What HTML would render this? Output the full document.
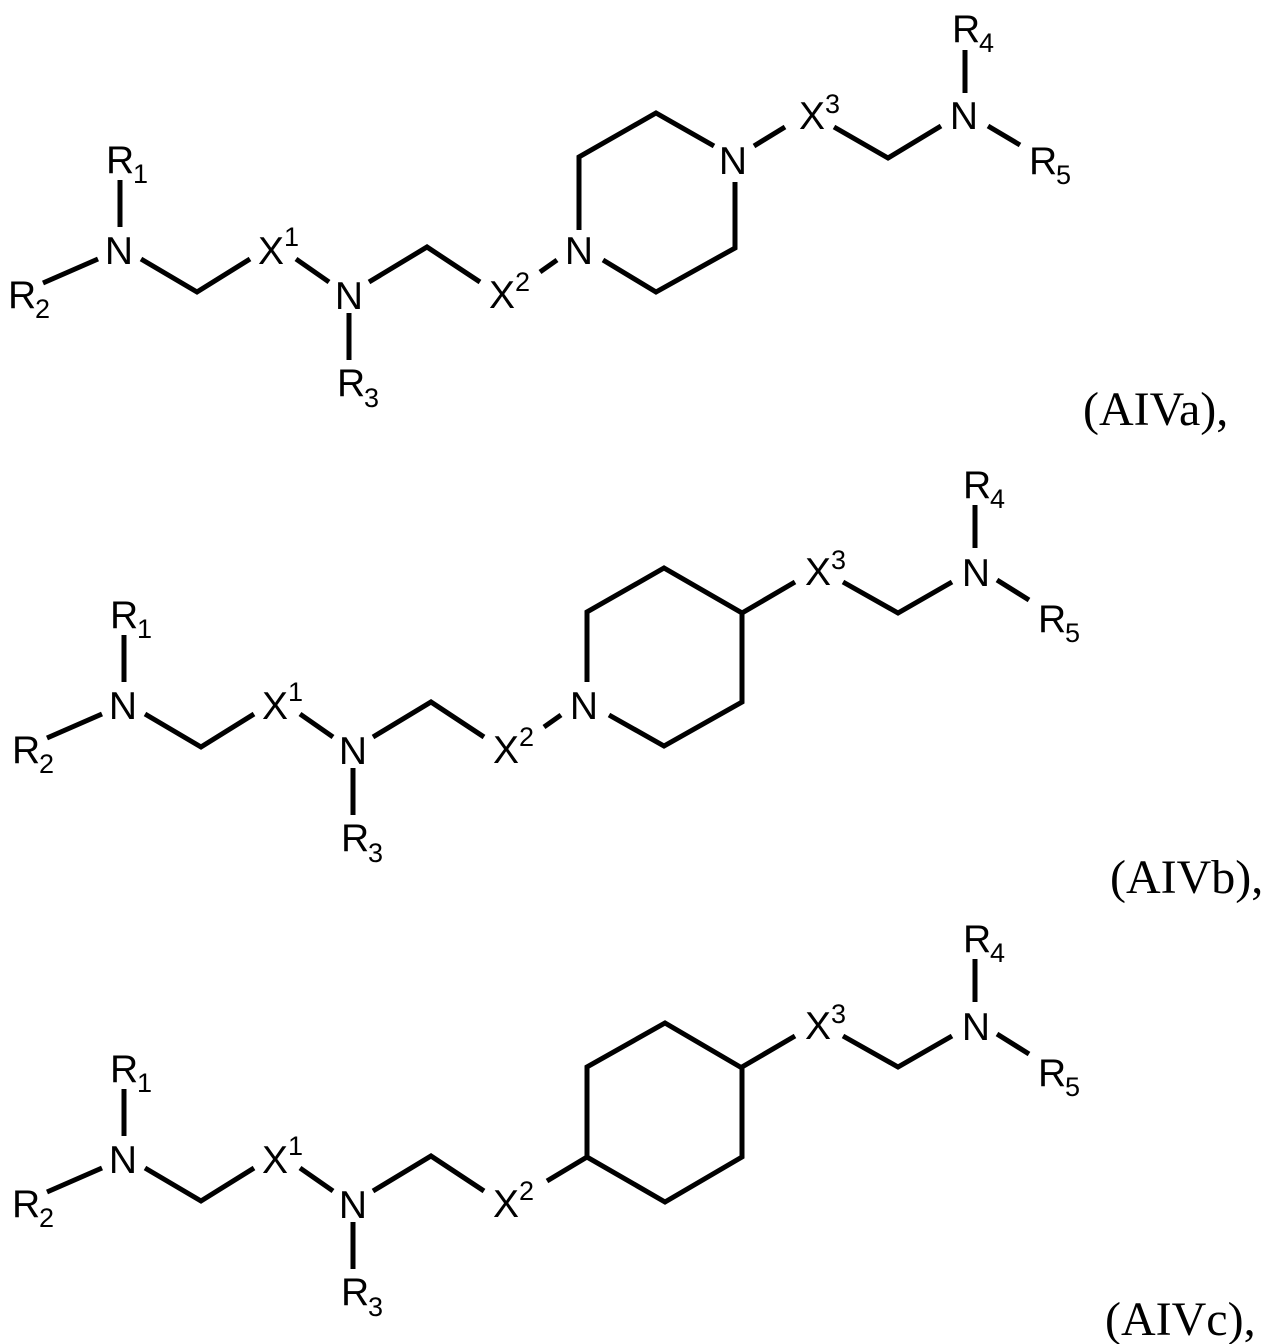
<!DOCTYPE html>
<html><head><meta charset="utf-8"><style>
html,body{margin:0;padding:0;background:#fff;}
svg{display:block;}
text{font-family:"Liberation Sans",Arial,sans-serif;fill:#000;}
.m{font-size:39px;}
.s{font-size:27px;}
.n{font-size:39px;text-anchor:middle;}
.lab{font-family:"Liberation Serif","Times New Roman",serif;font-size:48px;}
polyline,line{stroke:#000;stroke-width:5;fill:none;stroke-linejoin:miter;stroke-linecap:butt;}
</style></head><body>
<svg width="1282" height="1344" viewBox="0 0 1282 1344" xmlns="http://www.w3.org/2000/svg">
<defs>
<g id="left">
  <text class="m" x="106" y="173">R</text><text class="s" x="133" y="183">1</text>
  <text class="n" x="119" y="264">N</text>
  <text class="m" x="8" y="308">R</text><text class="s" x="35" y="318">2</text>
  <text class="m" x="258" y="264">X</text><text class="s" x="284" y="246">1</text>
  <text class="n" x="349" y="309">N</text>
  <text class="m" x="337" y="396">R</text><text class="s" x="364" y="407">3</text>
  <text class="m" x="489" y="308">X</text><text class="s" x="515" y="291">2</text>
  <line x1="120" y1="180" x2="120" y2="227"/>
  <line x1="43" y1="283" x2="98" y2="259"/>
  <polyline points="141,259 197,292 250,259"/>
  <line x1="296" y1="259" x2="329" y2="282"/>
  <line x1="349" y1="313" x2="349" y2="360"/>
  <polyline points="369,282 427,247 480,282"/>
</g>
<g id="right">
  <text class="m" x="805" y="585">X</text><text class="s" x="831" y="569">3</text>
  <polyline points="843,582 898,613 952,582"/>
  <text class="n" x="976" y="586">N</text>
  <line x1="975" y1="505" x2="975" y2="548"/>
  <text class="m" x="963" y="498">R</text><text class="s" x="990" y="508">4</text>
  <line x1="997" y1="580" x2="1029" y2="600"/>
  <text class="m" x="1038" y="632">R</text><text class="s" x="1065" y="642">5</text>
  <line x1="742" y1="613" x2="795" y2="582"/>
</g>
</defs>

<!-- AIVa -->
<use href="#left"/>
<line x1="540" y1="272" x2="557" y2="260"/>
<text class="n" x="579" y="264">N</text>
<polyline points="579,230 579,157 656,113 714,146"/>
<polyline points="735,182 735,248 656,292 603,260"/>
<text class="n" x="733" y="174">N</text>
<line x1="754" y1="146" x2="785" y2="127"/>
<text class="m" x="799" y="129">X</text><text class="s" x="825" y="113">3</text>
<polyline points="834,127 888,158 941,126"/>
<text class="n" x="964" y="129">N</text>
<line x1="965" y1="50" x2="965" y2="93"/>
<text class="m" x="952" y="42">R</text><text class="s" x="979" y="52">4</text>
<line x1="988" y1="126" x2="1020" y2="145"/>
<text class="m" x="1029" y="174">R</text><text class="s" x="1056" y="184">5</text>
<text class="lab" x="1083" y="425">(AIVa),</text>

<!-- AIVb -->
<g transform="translate(4,455)">
  <use href="#left"/>
  <line x1="540" y1="272" x2="557" y2="260"/>
  <text class="n" x="580" y="264">N</text>
</g>
<polyline points="587,682 587,612 664,568 742,613 742,702 664,746 609,715"/>
<use href="#right"/>
<text class="lab" x="1110" y="893">(AIVb),</text>

<!-- AIVc -->
<g transform="translate(4,909)">
  <use href="#left"/>
</g>
<line x1="547" y1="1181" x2="587" y2="1157"/>
<polygon points="587,1157 587,1067 665,1023 742,1068 742,1157 665,1202" style="stroke:#000;stroke-width:5;fill:none"/>
<g transform="translate(0,454)"><use href="#right"/></g>
<text class="lab" x="1105" y="1335">(AIVc),</text>
</svg>
</body></html>
